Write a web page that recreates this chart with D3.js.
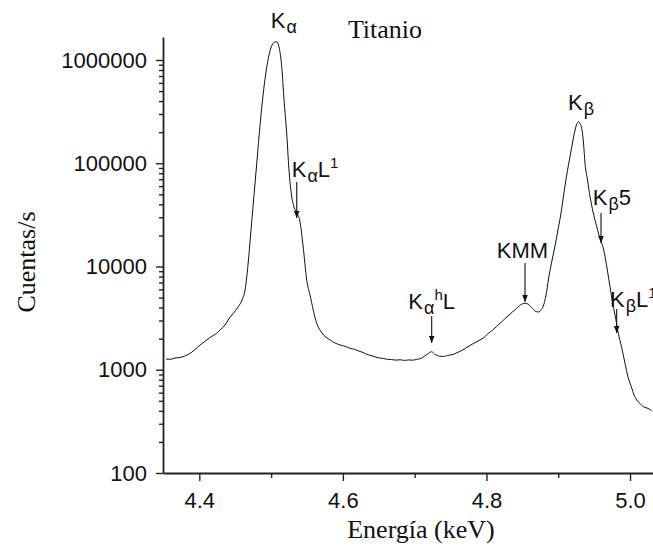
<!DOCTYPE html>
<html><head><meta charset="utf-8">
<script src="https://cdn.jsdelivr.net/npm/d3@7"></script>
<style>body{margin:0;background:#fff}svg{display:block}</style></head>
<body><svg id="c" width="653" height="549"></svg>
<script>
// ---- data ----
const energy = [4.3536,4.36,4.3661,4.3718,4.3773,4.383,4.3898,4.395,4.401,4.4065,4.4121,4.418,4.4242,4.43,4.4358,4.441,4.4474,4.4543,4.4595,4.4637,4.4678,4.472,4.4762,4.4804,4.4846,4.4888,4.4929,4.4971,4.5013,4.5055,4.5083,4.511,4.5148,4.518,4.5217,4.5249,4.5284,4.5319,4.536,4.5403,4.5444,4.5496,4.5542,4.5635,4.5709,4.582,4.596,4.603,4.6099,4.616,4.622,4.628,4.6332,4.639,4.645,4.651,4.6563,4.662,4.668,4.674,4.6796,4.686,4.692,4.698,4.7028,4.708,4.712,4.718,4.7237,4.7275,4.7311,4.735,4.7399,4.746,4.752,4.7585,4.765,4.7705,4.7771,4.784,4.7895,4.7956,4.802,4.8085,4.8189,4.8328,4.8421,4.8495,4.8537,4.8579,4.863,4.8676,4.8723,4.876,4.8792,4.883,4.8862,4.8909,4.8955,4.9001,4.9039,4.9071,4.9118,4.9164,4.9206,4.9234,4.9262,4.9282,4.9303,4.9327,4.9352,4.9373,4.9408,4.9443,4.9485,4.9536,4.9575,4.9606,4.9631,4.9652,4.9686,4.9721,4.9756,4.9791,4.9837,4.9882,4.993,4.9972,5.0024,5.0056,5.0093,5.0139,5.0185,5.0237,5.0302];
const counts = [1271,1262,1300,1310,1338,1390,1485,1590,1737,1850,1985,2120,2254,2470,2713,3100,3521,4080,4737,5921,10340,22570,49260,107500,234700,458100,765000,1118000,1397000,1494000,1494000,1336000,861200,409900,196300,86040,49260,37700,32980,26980,16150,7399,5297,2818,2270,1942,1737,1690,1613,1580,1520,1470,1410,1375,1330,1300,1285,1262,1255,1240,1248,1232,1245,1238,1262,1280,1330,1420,1495,1420,1380,1350,1345,1375,1400,1455,1530,1610,1720,1830,1920,2030,2230,2420,2818,3467,3937,4334,4402,4334,4008,3707,3625,3791,4143,5297,7399,11060,15800,23600,32980,47110,76950,115700,168000,209900,242700,252600,242700,218000,157100,99880,68830,47430,33720,24300,19310,16780,14770,12440,9047,6374,4531,3391,2254,1661,1155,850.7,665.8,569.3,509.3,471,438.6,426.1,403];

const xTicksMajor = [4.4,4.6,4.8,5.0];
const xTicksMinor = [4.5,4.7,4.9];
const yTicksMajor = [100,1000,10000,100000,1000000];
const yTickLabels = ["100","1000","10000","100000","1000000"];

const title = "Titanio";
const xLabel = "Energía (keV)";
const yLabel = "Cuentas/s";

// annotations: label parts [text, kind], text anchor (energy, counts), arrow (energy, from, to)
const annParts = [
  [["K","n"],["α","sub"]],
  [["K","n"],["α","sub"],["L","n"],["1","sup"]],
  [["K","n"],["α","sub"],["h","sup"],["L","n"]],
  [["KMM","n"]],
  [["K","n"],["β","sub"]],
  [["K","n"],["β","sub"],["5","n"]],
  [["K","n"],["β","sub"],["L","n"],["1","sup"]]
];
const annE = [4.4995,4.5287,4.6911,4.8143,4.9136,4.948,4.9721];
const annV = [2030000,74100,3851,12000,327800,39400,4080];
const arrowE    = [null,4.5357,4.7237,4.8537,null,4.9596,4.9814];
const arrowFrom = [null,65800,3316,10810,null,32980,3877];
const arrowTo   = [null,29500,1816,4532,null,16890,2270];

// ---- chart ----
const svg = d3.select("#c");
const x = d3.scaleLinear().domain([4.3494,5.032]).range([163,653]);
const y = d3.scaleLog().domain([100,1670000]).range([473,37]);

const axisColor = "#222";
const sans = "'Liberation Sans', Arial, sans-serif";
const serif = "'Liberation Serif', 'Times New Roman', serif";

const yMinor = [];
for (let p=2;p<=6;p++) for (let k=2;k<=9;k++) { const v=k*Math.pow(10,p); if (v<1670000) yMinor.push(v);}

svg.append("g").attr("transform","translate(163,0)")
  .call(d3.axisLeft(y).tickValues(yMinor).tickSize(4).tickSizeOuter(0).tickFormat(""))
  .call(g=>g.select(".domain").remove());
const gy = svg.append("g").attr("transform","translate(163,0)")
  .call(d3.axisLeft(y).tickValues(yTicksMajor).tickSize(7).tickSizeOuter(0).tickPadding(9)
    .tickFormat((d,i)=>yTickLabels[i]));
svg.append("g").attr("transform","translate(0,473)")
  .call(d3.axisBottom(x).tickValues(xTicksMinor).tickSize(5).tickSizeOuter(0).tickFormat(""))
  .call(g=>g.select(".domain").remove());
const gx = svg.append("g").attr("transform","translate(0,473)")
  .call(d3.axisBottom(x).tickValues(xTicksMajor).tickSize(8).tickSizeOuter(0).tickPadding(5)
    .tickFormat(d3.format(".1f")));

svg.selectAll(".domain, .tick line").attr("stroke",axisColor).attr("stroke-width",1.4);
svg.selectAll(".domain").attr("stroke-width",1.8);
gy.selectAll(".tick text").attr("font-family",sans).attr("font-size",22).attr("fill","#111");
gx.selectAll(".tick text").attr("font-family",sans).attr("font-size",22).attr("fill","#111").attr("dy","1em");

// curve
const line = d3.line().x((d,i)=>x(energy[i])).y(d=>y(d)).curve(d3.curveMonotoneX);
svg.append("path").datum(counts).attr("d",line).attr("fill","none").attr("stroke","#111").attr("stroke-width",1);

svg.append("defs").append("marker").attr("id","ah").attr("viewBox","0 0 10 10")
  .attr("refX",10).attr("refY",5).attr("markerWidth",7).attr("markerHeight",8)
  .attr("markerUnits","userSpaceOnUse").attr("orient","auto")
  .append("path").attr("d","M0,1L10,5L0,9Z").attr("fill","#111");

annParts.forEach((parts,i)=>{
  const t = svg.append("text").attr("x",x(annE[i])).attr("y",y(annV[i]))
    .attr("font-family",sans).attr("font-size",22).attr("fill","#111");
  let shift = 0;
  parts.forEach(([s,k])=>{
    let target = 0, fs = 22;
    if (k==="sub"){target=5;fs=18;} else if (k==="sup"){target=-9;fs=15;}
    t.append("tspan").attr("font-size",fs).attr("dy",target-shift).attr("dx",k==="sub"?1:0).text(s);
    shift = target;
  });
  if (arrowE[i]!==null){
    svg.append("line").attr("x1",x(arrowE[i])).attr("x2",x(arrowE[i]))
      .attr("y1",y(arrowFrom[i])).attr("y2",y(arrowTo[i]))
      .attr("stroke","#111").attr("stroke-width",1.1).attr("marker-end","url(#ah)");
  }
});

svg.append("text").attr("x",385).attr("y",38).attr("text-anchor","middle")
  .attr("font-family",serif).attr("font-size",26).attr("fill","#111").text(title);
svg.append("text").attr("x",421).attr("y",538).attr("text-anchor","middle")
  .attr("font-family",serif).attr("font-size",26).attr("fill","#111").text(xLabel);
svg.append("text").attr("transform","translate(35,262) rotate(-90)").attr("text-anchor","middle")
  .attr("font-family",serif).attr("font-size",26).attr("fill","#111").text(yLabel);
</script></body></html>
